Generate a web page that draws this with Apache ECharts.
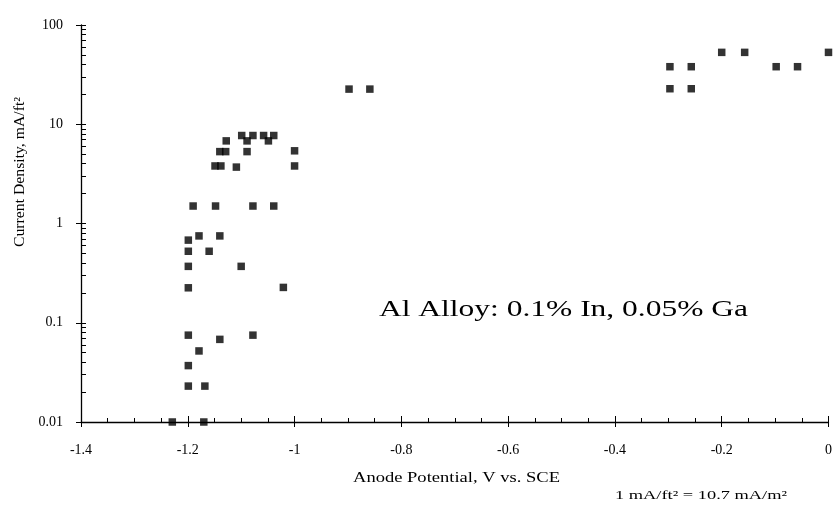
<!DOCTYPE html>
<html>
<head>
<meta charset="utf-8">
<script src="https://cdn.jsdelivr.net/npm/echarts@6/dist/echarts.min.js"></script>
<style>
html,body{margin:0;padding:0;background:#fff;}
#chart{width:835px;height:505px;}
</style>
</head>
<body>
<div id="chart"></div>
<script>
// Anode potential (V vs. SCE) and current density (mA/ft²)
const anodePotential = [
  -1.128, -1.099, -1.089, -1.078, -1.058, -1.049, -1.039,
  -1.140, -1.129, -1.089, -1.000,
  -1.149, -1.138, -1.109, -1.000,
  -1.190, -1.148, -1.078, -1.039,
  -1.179, -1.140, -1.199, -1.199, -1.160, -1.199, -1.100,
  -1.199, -1.021, -1.199, -1.140, -1.078, -1.179, -1.199,
  -1.199, -1.168, -1.229, -1.170,
  -0.898, -0.859,
  -0.297, -0.257, -0.297, -0.257,
  -0.200, -0.157, -0.098, -0.058, 0.000
];
const currentDensity = [
  6.8, 7.7, 6.8, 7.7, 7.7, 6.8, 7.7,
  5.3, 5.3, 5.3, 5.4,
  3.8, 3.8, 3.7, 3.8,
  1.5, 1.5, 1.5, 1.5,
  0.75, 0.75, 0.68, 0.525, 0.525, 0.37, 0.37,
  0.225, 0.227, 0.075, 0.068, 0.075, 0.052, 0.037,
  0.023, 0.023, 0.01, 0.01,
  22.6, 22.6,
  38, 38, 22.8, 22.8,
  53, 53, 38, 38, 53
];
const xTicks = [-1.4, -1.2, -1, -0.8, -0.6, -0.4, -0.2, 0];
const yTicks = [0.01, 0.1, 1, 10, 100];
const yMinorTicks = [];
[0.01, 0.1, 1, 10].forEach(d => { for (let k = 1; k <= 9; k++) yMinorTicks.push(+(d * k).toPrecision(3)); });
yMinorTicks.push(100);

const xAxisTitle = 'Anode Potential, V vs. SCE';
const yAxisTitle = 'Current Density, mA/ft²';
const annotation = 'Al Alloy: 0.1% In, 0.05% Ga';
const footnote = '1 mA/ft² = 10.7 mA/m²';

const serif = '"Liberation Serif", "Times New Roman", serif';
const points = anodePotential.map((v, i) => [v, currentDensity[i]]);

// measure text to stretch it horizontally like the scanned original
const measureCtx = document.createElement('canvas').getContext('2d');
function fitScale(text, font, targetWidth) {
  measureCtx.font = font;
  return targetWidth / measureCtx.measureText(text).width;
}
const fAnn = '24px ' + serif, fX = '15px ' + serif, fY = '15px ' + serif, fFoot = '13px ' + serif;

function stretchedText(text, font, x, y, width, rotation) {
  return {
    type: 'text', zlevel: 1, x: x, y: y, rotation: rotation || 0,
    scaleX: fitScale(text, font, width),
    style: {text: text, font: font, fill: '#000', align: 'center', verticalAlign: 'middle'}
  };
}

const chart = echarts.init(document.getElementById('chart'));
chart.setOption({
  animation: false,
  backgroundColor: '#fff',
  grid: {left: 81, right: 3, top: 25, bottom: 83},
  xAxis: [{
    type: 'value', min: -1.4, max: 0, interval: 0.2,
    axisLine: {onZero: false, lineStyle: {color: '#000', width: 1.3}},
    axisTick: {show: true, length: 5, lineStyle: {color: '#000', width: 1}},
    axisLabel: {color: '#000', fontFamily: serif, fontSize: 14, margin: 21,
      formatter: v => String(+(+v).toFixed(2))},
    splitLine: {show: false}
  }, {
    type: 'value', min: -1.4, max: 0, interval: 0.2, position: 'bottom',
    axisLine: {show: false, onZero: false},
    axisTick: {show: true, inside: true, length: 6, lineStyle: {color: '#000', width: 1}},
    minorTick: {show: true, splitNumber: 4, length: 4, lineStyle: {color: '#000', width: 1}},
    axisLabel: {show: false}, splitLine: {show: false}
  }],
  yAxis: [{
    type: 'log', min: 0.01, max: 100, position: 'left',
    axisLine: {show: true, onZero: false, lineStyle: {color: '#000', width: 1.3}},
    axisTick: {show: true, length: 5, lineStyle: {color: '#000', width: 1}},
    axisLabel: {color: '#000', fontFamily: serif, fontSize: 14, margin: 18,
      formatter: v => String(+(+v).toPrecision(3))},
    splitLine: {show: false}
  }, {
    type: 'log', min: 0.01, max: 100, position: 'left',
    axisLine: {show: false, onZero: false},
    axisTick: {show: true, inside: true, length: 5, customValues: yMinorTicks, lineStyle: {color: '#000', width: 1}},
    axisLabel: {show: false}, splitLine: {show: false}
  }],
  series: [{
    type: 'scatter', xAxisIndex: 0, yAxisIndex: 0,
    data: points, symbol: 'rect', symbolSize: 7.5,
    itemStyle: {color: '#000'}, clip: false
  }],
  graphic: [
    stretchedText(yAxisTitle, fY, 20, 172, 150, Math.PI / 2),
    stretchedText(xAxisTitle, fX, 456.5, 478, 207),
    stretchedText(annotation, fAnn, 563.5, 310, 369),
    stretchedText(footnote, fFoot, 701, 496, 172)
  ]
});
</script>
</body>
</html>
